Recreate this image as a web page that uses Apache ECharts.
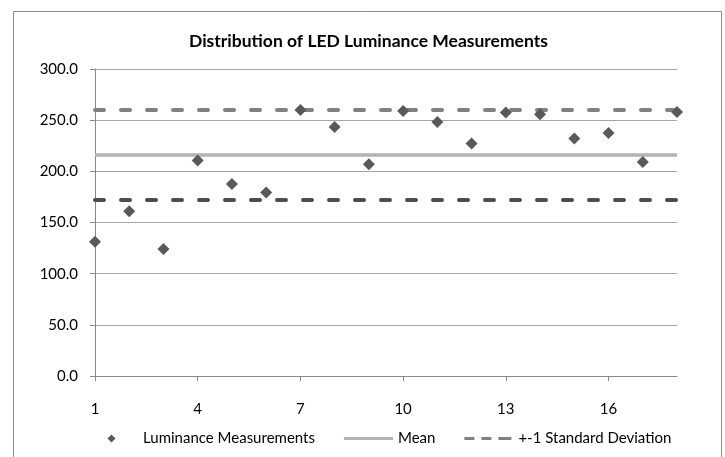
<!DOCTYPE html>
<html lang="en">
<head>
    <meta charset="UTF-8">
    <title>LED Luminance</title>
    <script src="https://cdn.jsdelivr.net/npm/echarts@6/dist/echarts.min.js"></script>
</head>
<body style="margin: 0; background: #fff">
<div id="chart" style="width: 725px;height: 457px"></div>
<script>
    // measurement index and readings
    const categories = ['1', '2', '3', '4', '5', '6', '7', '8', '9', '10', '11', '12', '13', '14', '15', '16', '17', '18'];
    const luminance = [131.1, 161.1, 124.0, 210.5, 187.7, 179.3, 260.0, 243.4, 206.9,
        259.0, 248.3, 227.1, 257.4, 255.7, 232.0, 237.5, 209.2, 258.0];
    const meanValue = 216.0;
    const upperSd = 259.9;
    const lowerSd = 172.1;
    const yTicks = [0, 50, 100, 150, 200, 250, 300];

    const meanData = categories.map(() => meanValue);
    const upperData = categories.map(() => upperSd);
    const lowerData = categories.map(() => lowerSd);

    // legend icons: the leading moves pin the icon box so shapes keep their size
    const diamondIcon = 'path://M0,0M49,12M22.5,2L26.5,6L22.5,10L18.5,6Z';
    const meanIcon = 'path://M0,0M49,12M0,4.5h49v3h-49z';
    const dashIcon = 'path://M0,0M49,12M0,4.5h10v3h-10zM17,4.5h10v3h-10zM34,4.5h13v3h-13z';

    let chart = echarts.init(document.getElementById('chart'));
    let option = {
        animation: false,
        textStyle: {fontFamily: 'Lato, "Open Sans", sans-serif'},
        graphic: [{
            type: 'rect',
            shape: {x: 13.5, y: 11.5, width: 708, height: 470},
            style: {fill: 'none', stroke: '#8c8c8c', lineWidth: 1},
            silent: true
        }],
        title: {
            text: 'Distribution of LED Luminance Measurements',
            left: 184,
            top: 27,
            textStyle: {fontSize: 17.5, fontWeight: 'bold', color: '#000'}
        },
        legend: {
            left: 84,
            top: 426,
            itemWidth: 49,
            itemHeight: 12,
            itemGap: 29,
            textStyle: {fontSize: 15, color: '#000'},
            data: [
                {name: 'Luminance Measurements', icon: diamondIcon},
                {name: 'Mean', icon: meanIcon},
                {name: '+-1 Standard Deviation', icon: dashIcon}
            ]
        },
        grid: {left: 95, right: 48, top: 69, bottom: 81},
        xAxis: {
            type: 'category',
            data: categories,
            boundaryGap: false,
            axisLine: {lineStyle: {color: '#888', width: 1}},
            axisTick: {interval: 2, length: 5, lineStyle: {color: '#888'}},
            axisLabel: {interval: 2, margin: 26, fontSize: 15, color: '#000'},
            splitLine: {show: false}
        },
        yAxis: {
            type: 'value',
            min: yTicks[0],
            max: yTicks[yTicks.length - 1],
            interval: 50,
            axisLine: {show: true, lineStyle: {color: '#888'}},
            axisTick: {show: true, length: 5, lineStyle: {color: '#888'}},
            axisLabel: {
                margin: 17, fontSize: 15, color: '#000',
                formatter: function (v) { return v.toFixed(1); }
            },
            splitLine: {lineStyle: {color: '#a6a6a6', width: 1}}
        },
        series: [
            {
                name: 'Mean',
                type: 'line',
                data: meanData,
                symbol: 'none',
                z: 2,
                color: '#b3b3b3',
                lineStyle: {color: '#b3b3b3', width: 3.5}
            },
            {
                name: '+-1 Standard Deviation',
                type: 'line',
                data: upperData,
                symbol: 'none',
                z: 2,
                color: '#808080',
                lineStyle: {color: '#808080', width: 4, type: [9, 17], cap: 'round'}
            },
            {
                name: '+-1 Standard Deviation',
                type: 'line',
                data: lowerData,
                symbol: 'none',
                z: 2,
                color: '#4d4d4d',
                lineStyle: {color: '#4d4d4d', width: 4, type: [9, 17], cap: 'round'}
            },
            {
                name: 'Luminance Measurements',
                type: 'scatter',
                data: luminance,
                symbol: 'diamond',
                symbolSize: 12,
                z: 5,
                itemStyle: {color: '#595959', opacity: 1}
            }
        ]
    };
    chart.setOption(option);
</script>
</body>
</html>
